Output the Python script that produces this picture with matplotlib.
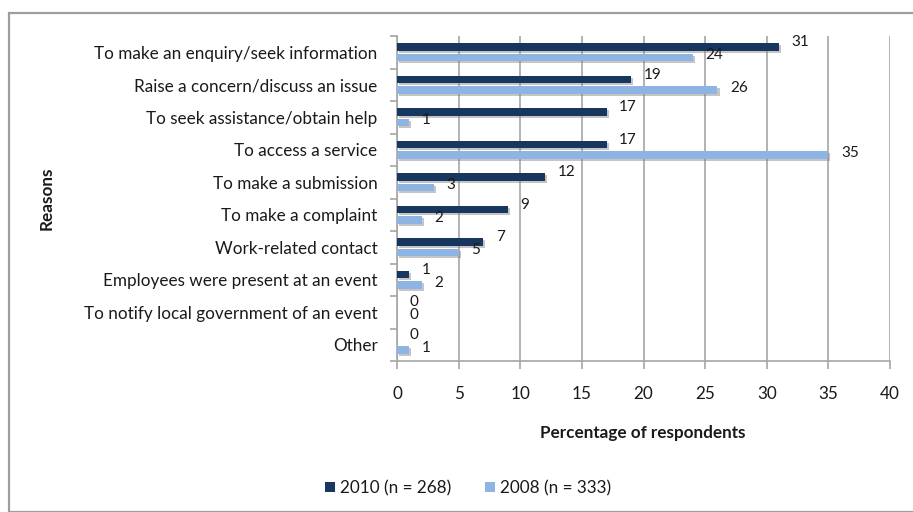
import matplotlib
matplotlib.use("Agg")
import matplotlib.pyplot as plt
import matplotlib.patheffects as pe
from matplotlib.patches import Rectangle, Patch
import numpy as np

categories = [
    "To make an enquiry/seek information",
    "Raise a concern/discuss an issue",
    "To seek assistance/obtain help",
    "To access a service",
    "To make a submission",
    "To make a complaint",
    "Work-related contact",
    "Employees were present at an event",
    "To notify local government of an event",
    "Other",
]
values_2010 = [31, 19, 17, 17, 12, 9, 7, 1, 0, 0]
values_2008 = [24, 26, 1, 35, 3, 2, 5, 2, 0, 1]
series_labels = ["2010 (n = 268)", "2008 (n = 333)"]
x_ticks = [0, 5, 10, 15, 20, 25, 30, 35, 40]

dark = "#17375E"
light = "#8DB4E2"
grid_grey = "#A6A6A6"
text_col = "#1a1a1a"
fs = 12.3
fs_val = 11

plt.rcParams["font.family"] = ["Lato", "DejaVu Sans"]

W, H = 913, 512
fig = plt.figure(figsize=(W / 100, H / 100), dpi=100)

# outer chart frame (runs off the right and bottom edges)
fig.patches.append(Rectangle((9 / W, 0), (W + 20) / W, (H - 13) / H,
                             transform=fig.transFigure, fill=False,
                             edgecolor="#9E9E9E", linewidth=1.6, zorder=0))

ax = fig.add_axes([397 / W, 1 - 361 / H, (890 - 397) / W, (361 - 36) / H])

n = len(categories)
y = np.arange(n)
bar_h = 0.235
shadow = [pe.SimplePatchShadow(offset=(1.5, -1.5), shadow_rgbFace="#808080", alpha=0.45), pe.Normal()]

ax.barh(y - 0.16, values_2010, height=bar_h, color=dark, zorder=3, path_effects=shadow)
ax.barh(y + 0.16, values_2008, height=bar_h, color=light, zorder=3, path_effects=shadow)

for yy, v in zip(y - 0.16, values_2010):
    ax.annotate(str(v), (v, yy), xytext=(9, 3.5), textcoords="offset points",
                va="center", ha="left", fontsize=fs_val, color=text_col)
for yy, v in zip(y + 0.16, values_2008):
    ax.annotate(str(v), (v, yy), xytext=(9, 1.5), textcoords="offset points",
                va="center", ha="left", fontsize=fs_val, color=text_col)

ax.set_xlim(0, 40)
ax.set_ylim(n - 0.5, -0.5)
ax.set_xticks(x_ticks)
ax.set_xticklabels([str(t) for t in x_ticks], fontsize=fs, color=text_col)
ax.set_yticks(y)
ax.set_yticklabels(categories, fontsize=fs, color=text_col)
ax.tick_params(axis="y", length=0, pad=14)
ax.set_yticks(np.arange(n + 1) - 0.5, minor=True)
ax.tick_params(axis="y", which="minor", length=5, color=grid_grey, width=1.2)
ax.tick_params(axis="x", length=6, color=grid_grey, width=1.2, pad=12)

ax.grid(axis="x", color=grid_grey, linewidth=1.2, zorder=0)
for s in ["top", "right"]:
    ax.spines[s].set_visible(False)
for s in ["left", "bottom"]:
    ax.spines[s].set_color(grid_grey)
    ax.spines[s].set_linewidth(1.2)

fig.text(643 / W, 1 - 433 / H, "Percentage of respondents", ha="center", va="center",
         fontsize=fs, fontweight="bold", color=text_col)
fig.text(47 / W, 1 - 198 / H, "Reasons", ha="center", va="center", rotation=90,
         fontsize=fs, fontweight="bold", color=text_col)

handles = [Patch(facecolor=dark), Patch(facecolor=light)]
fig.legend(handles=handles, labels=series_labels, loc="center",
           bbox_to_anchor=(468 / W, 1 - 488 / H), ncol=2, frameon=False,
           fontsize=fs, handlelength=0.55, handleheight=0.55, handletextpad=0.3,
           columnspacing=2.0, labelcolor=text_col)

fig.savefig("out.png", dpi=100)
